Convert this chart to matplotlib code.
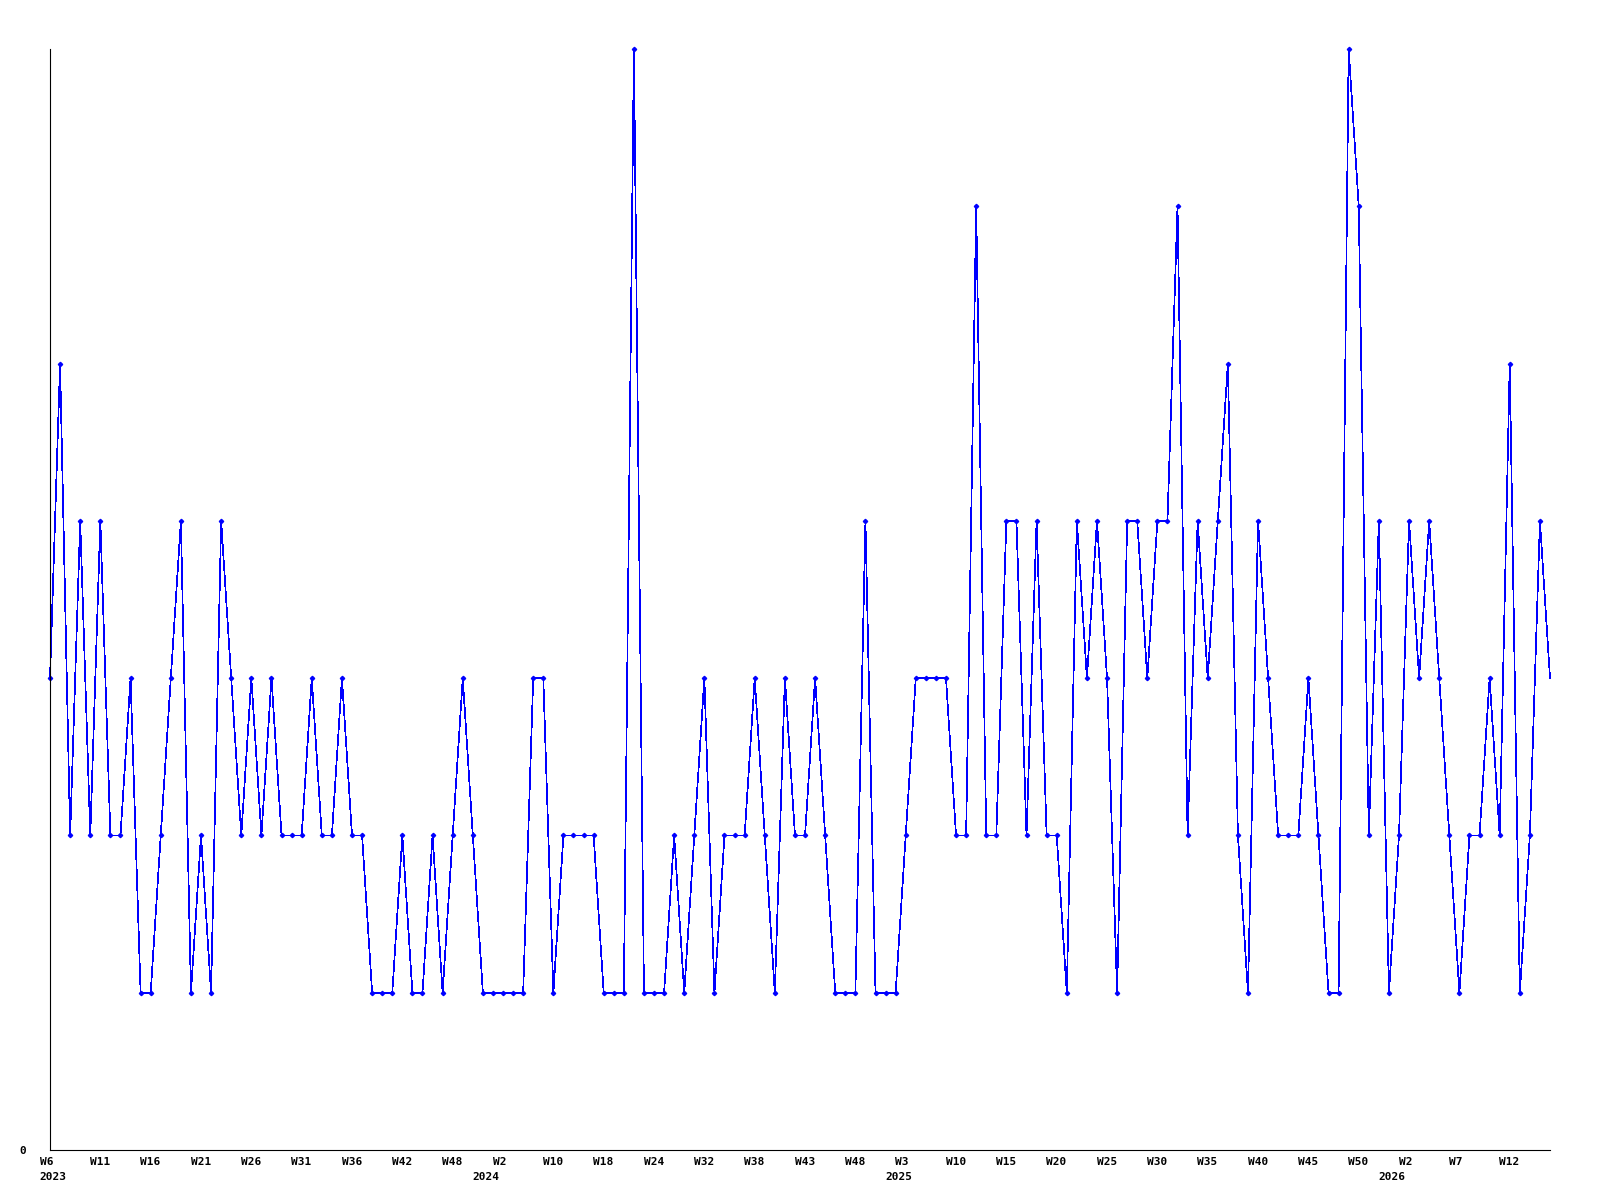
import numpy as np
import matplotlib
matplotlib.use("Agg")
import matplotlib.pyplot as plt
from matplotlib.transforms import offset_copy

# weekly counts, one entry per point
values = [3, 5, 2, 4, 2, 4, 2, 2, 3, 1,
          1, 2, 3, 4, 1, 2, 1, 4, 3, 2,
          3, 2, 3, 2, 2, 2, 3, 2, 2, 3,
          2, 2, 1, 1, 1, 2, 1, 1, 2, 1,
          2, 3, 2, 1, 1, 1, 1, 1, 3, 3,
          1, 2, 2, 2, 2, 1, 1, 1, 7, 1,
          1, 1, 2, 1, 2, 3, 1, 2, 2, 2,
          3, 2, 1, 3, 2, 2, 3, 2, 1, 1,
          1, 4, 1, 1, 1, 2, 3, 3, 3, 3,
          2, 2, 6, 2, 2, 4, 4, 2, 4, 2,
          2, 1, 4, 3, 4, 3, 1, 4, 4, 3,
          4, 4, 6, 2, 4, 3, 4, 5, 2, 1,
          4, 3, 2, 2, 2, 3, 2, 1, 1, 7,
          6, 2, 4, 1, 2, 4, 3, 4, 3, 2,
          1, 2, 2, 3, 2, 5, 1, 2, 4, 3]

# label every 5th point with its ISO week
week_labels = ["W6", "W11", "W16", "W21", "W26", "W31", "W36", "W42", "W48",
               "W2", "W10", "W18", "W24", "W32", "W38", "W43", "W48",
               "W3", "W10", "W15", "W20", "W25", "W30", "W35", "W40", "W45", "W50",
               "W2", "W7", "W12"]
week_step = 5

# first point of each year
years = ["2023", "2024", "2025", "2026"]
year_points = [0, 43, 84, 133]

x = np.arange(len(values))

fig = plt.figure(figsize=(16, 12), dpi=100)
W, H = 1600, 1200
left, right, top, bottom = 50, 1550, 49, 1150
ax = fig.add_axes([left / W, 1 - bottom / H, (right - left) / W, (bottom - top) / H])

ax.plot(x, values, color="#0000ff", lw=0.5, antialiased=False,
        marker="D", ms=2.2, mec="#0000ff", mfc="#0000ff",
        markevery=slice(0, len(values) - 1), clip_on=False)

ax.set_xlim(0, len(values) - 1)
ax.set_ylim(0, max(values))
ax.set_xticks([])
ax.set_yticks([])
for s in ["top", "right"]:
    ax.spines[s].set_visible(False)
for s in ["left", "bottom"]:
    ax.spines[s].set_linewidth(0.8)
    ax.spines[s].set_color("black")

font = dict(family="DejaVu Sans Mono", fontweight="bold", fontsize=8, color="black")
trans = offset_copy(ax.get_xaxis_transform(), fig=fig, x=-10.5, y=0, units="dots")
wk_y = -12 / (bottom - top)
yr_y = -27 / (bottom - top)
for i, lab in enumerate(week_labels):
    ax.text(i * week_step, wk_y, lab, transform=trans, ha="left", va="center", **font)
for p, yr in zip(year_points, years):
    ax.text(p, yr_y, yr, transform=trans, ha="left", va="center", **font)

fig.text(22.5 / W, 1 - 1151 / H, "0", ha="center", va="center", **font)

fig.savefig("out.png", dpi=100)
